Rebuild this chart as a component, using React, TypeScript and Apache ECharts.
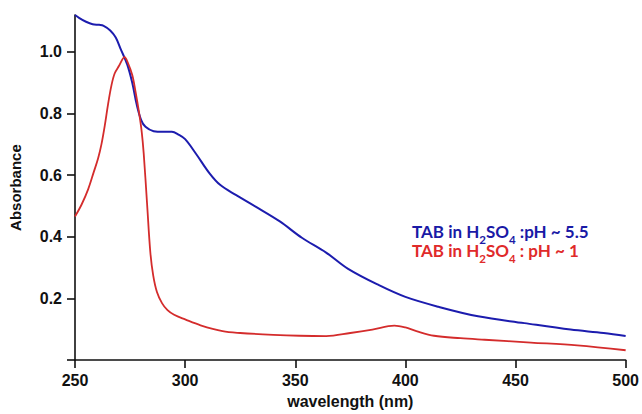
import React, { useEffect, useRef } from "react";
import * as echarts from "echarts";

const blueWavelength = [250, 252, 255, 258, 261, 263, 266, 268.5, 270.7, 273.7, 276, 278, 280, 282, 285.7, 290, 294, 297, 300, 305, 311, 316, 323, 332, 343, 353, 364, 374, 388, 400, 415, 433, 454, 475, 490, 500];
const blueAbsorbance = [1.12, 1.11, 1.098, 1.09, 1.088, 1.085, 1.07, 1.047, 1.01, 0.96, 0.9, 0.83, 0.78, 0.757, 0.743, 0.741, 0.741, 0.732, 0.717, 0.669, 0.607, 0.568, 0.536, 0.498, 0.45, 0.397, 0.349, 0.296, 0.243, 0.205, 0.173, 0.142, 0.12, 0.099, 0.088, 0.078];

const redWavelength = [250, 253, 256, 258.5, 260.5, 262, 263.5, 265, 266.5, 268, 270, 272.5, 274, 276, 277.5, 279, 280.3, 281.2, 282.7, 284.2, 285.5, 287.2, 289.5, 292, 295, 300, 307, 317, 325, 340, 352, 364, 375, 385, 395, 400, 405, 413, 425, 436, 457, 478, 500];
const redAbsorbance = [0.466, 0.505, 0.555, 0.61, 0.655, 0.7, 0.76, 0.83, 0.89, 0.93, 0.955, 0.983, 0.965, 0.925, 0.87, 0.807, 0.74, 0.67, 0.51, 0.35, 0.275, 0.221, 0.185, 0.162, 0.147, 0.132, 0.113, 0.094, 0.088, 0.082, 0.079, 0.078, 0.088, 0.099, 0.112, 0.106, 0.094, 0.079, 0.071, 0.066, 0.057, 0.048, 0.032];

const xTicks = [250, 300, 350, 400, 450, 500];
const yTicks = [0.2, 0.4, 0.6, 0.8, 1.0];

const BLUE = "#1c1cae";
const RED = "#d42c2c";
const BLUE_TEXT = "#1a1aa6";
const RED_TEXT = "#e02a2a";

export default function App() {
  const ref = useRef<HTMLDivElement>(null);
  useEffect(() => {
    if (!ref.current) return;
    const chart = echarts.init(ref.current, null, { renderer: "svg" });
    const pairs = (xs: number[], ys: number[]) => xs.map((x, i) => [x, ys[i]]);
    const labelFont = { fontFamily: "Liberation Sans, Arial, sans-serif", fontWeight: "bold" as const, fontSize: 16, color: "#111" };
    const mkRich = (color: string) => ({
      m: { fontFamily: "Lato, sans-serif", fontWeight: "bold", fontSize: 17, fill: color, lineHeight: 21, verticalAlign: "bottom" },
      s: { fontFamily: "Lato, sans-serif", fontWeight: "bold", fontSize: 11.5, fill: color, lineHeight: 15, verticalAlign: "bottom", padding: [0, 0, -5, 0] },
    });
    chart.setOption({
      animation: false,
      backgroundColor: "#ffffff",
      grid: { left: 73, right: 13, top: 15, bottom: 48, containLabel: false },
      xAxis: {
        type: "value",
        min: 250,
        max: 500,
        interval: 50,
        name: "wavelength (nm)",
        nameLocation: "middle",
        nameGap: 30,
        nameTextStyle: { ...labelFont, fontSize: 16 },
        axisLine: { show: true, lineStyle: { color: "#111", width: 1.6 } },
        axisTick: { show: true, inside: false, length: 8, lineStyle: { color: "#111", width: 1.6 } },
        axisLabel: { ...labelFont, margin: 12, formatter: (v: number) => (xTicks.includes(v) ? String(v) : "") },
        splitLine: { show: false },
      },
      yAxis: {
        type: "value",
        min: 0,
        max: 1.12,
        interval: 0.2,
        name: "Absorbance",
        nameLocation: "middle",
        nameGap: 52,
        nameTextStyle: { ...labelFont, fontSize: 15 },
        axisLine: { show: true, lineStyle: { color: "#111", width: 1.6 } },
        axisTick: { show: true, inside: false, length: 8, lineStyle: { color: "#111", width: 1.6 } },
        axisLabel: {
          ...labelFont,
          margin: 13,
          showMaxLabel: false,
          formatter: (v: number) => {
            const t = yTicks.find((k) => Math.abs(k - v) < 1e-6);
            return t !== undefined ? t.toFixed(1) : "";
          },
        },
        splitLine: { show: false },
      },
      series: [
        {
          type: "line",
          name: "pH 5.5",
          data: pairs(blueWavelength, blueAbsorbance),
          showSymbol: false,
          smooth: 0.35,
          lineStyle: { color: BLUE, width: 2 },
        },
        {
          type: "line",
          name: "pH 1",
          data: pairs(redWavelength, redAbsorbance),
          showSymbol: false,
          smooth: 0.35,
          lineStyle: { color: RED, width: 1.8 },
        },
      ],
      graphic: [
        {
          type: "text",
          left: 412,
          top: 223,
          style: {
            text: "{m|TAB in H}{s|2}{m|SO}{s|4}{m| :pH ~ 5.5}",
            rich: mkRich(BLUE_TEXT),
          },
        },
        {
          type: "text",
          left: 412,
          top: 242,
          style: {
            text: "{m|TAB in H}{s|2}{m|SO}{s|4}{m| : pH ~ 1}",
            rich: mkRich(RED_TEXT),
          },
        },
      ],
    });
    return () => chart.dispose();
  }, []);
  return <div ref={ref} style={{ position: "absolute", left: 0, top: 0, width: 642, height: 414 }} />;
}
